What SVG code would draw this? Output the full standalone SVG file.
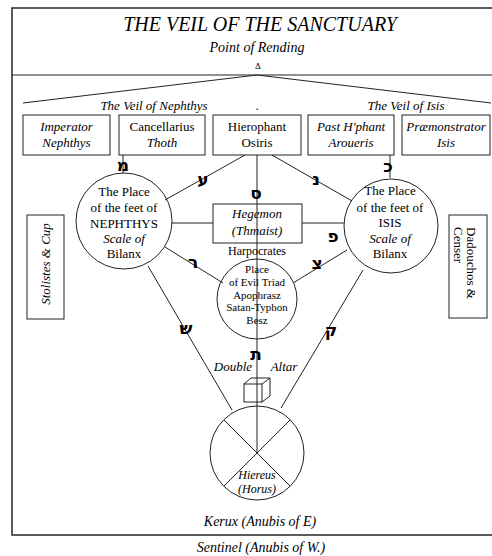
<svg xmlns="http://www.w3.org/2000/svg" width="492" height="556" viewBox="0 0 492 556">
<style>
.t{font-family:"Liberation Serif",serif;fill:#000;text-anchor:middle}
.i{font-style:italic}
.s13{font-size:13px}
.s12{font-size:12px}
.s11{font-size:11px}
.heb{font-family:"DejaVu Sans","Liberation Serif",sans-serif;font-weight:bold;font-size:17px;text-anchor:middle;fill:#000}
.box{fill:none;stroke:#222;stroke-width:1}
.ln{stroke:#222;stroke-width:1;fill:none}
</style>
<rect width="492" height="556" fill="#fff"/>
<g id="frame">
<rect x="12" y="8" width="492" height="527" fill="none" stroke="#333" stroke-width="1.6"/>
<line x1="12" y1="75" x2="504" y2="75" stroke="#222" stroke-width="1.2"/>
</g>
<g id="title">
<text class="t i" x="260" y="31" font-size="20">THE VEIL OF THE SANCTUARY</text>
<text class="t i" x="257" y="52" font-size="14">Point of  Rending</text>
<text class="t" x="258" y="69" font-size="9">Δ</text>
</g>
<g id="veil">
<polyline class="ln" points="23,103 257,75 491,103"/>
<text class="t i s13" x="154" y="110">The Veil of Nephthys</text>
<text class="t s13" x="257" y="110">.</text>
<text class="t i s13" x="406" y="110">The Veil of Isis</text>
</g>
<g id="connectors">
<line class="ln" x1="123" y1="155" x2="123" y2="173"/>
<line class="ln" x1="390" y1="155" x2="390" y2="178"/>
<line class="ln" x1="245" y1="155" x2="165" y2="200"/>
<line class="ln" x1="272" y1="155" x2="352" y2="201"/>
<line class="ln" x1="257" y1="155" x2="257" y2="453"/>
<line class="ln" x1="172" y1="223" x2="213" y2="223"/>
<line class="ln" x1="302" y1="223" x2="344" y2="223"/>
<line class="ln" x1="165" y1="247" x2="223" y2="283"/>
<line class="ln" x1="347" y1="250" x2="293" y2="283"/>
<line class="ln" x1="148" y1="266" x2="232" y2="410"/>
<line class="ln" x1="363" y1="270" x2="281" y2="408"/>
<text class="heb" x="123" y="171">מ</text>
<text class="heb" x="203" y="185">ע</text>
<text class="heb" x="256" y="199">ס</text>
<text class="heb" x="316" y="185">נ</text>
<text class="heb" x="388" y="172">כ</text>
<text class="heb" x="333" y="242">פ</text>
<text class="heb" x="193" y="268">ר</text>
<text class="heb" x="317" y="269">צ</text>
<text class="heb" x="186" y="334">ש</text>
<text class="heb" x="331" y="336">ק</text>
<text class="heb" x="256" y="360">ת</text>
</g>
<g id="imperator">
<rect class="box" x="23" y="115" width="87" height="40"/>
<text class="t i s13" x="66.5" y="131">Imperator</text>
<text class="t i s13" x="66.5" y="147">Nephthys</text>
</g>
<g id="cancellarius">
<rect class="box" x="119" y="115" width="86" height="40"/>
<text class="t s13" x="162" y="131">Cancellarius</text>
<text class="t i s13" x="162" y="147">Thoth</text>
</g>
<g id="hierophant">
<rect class="box" x="213" y="115" width="88" height="40"/>
<text class="t s13" x="257" y="131">Hierophant</text>
<text class="t s13" x="257" y="147">Osiris</text>
</g>
<g id="pasthierophant">
<rect class="box" x="308" y="115" width="86" height="40"/>
<text class="t i s13" x="351" y="131">Past H'phant</text>
<text class="t i s13" x="351" y="147">Aroueris</text>
</g>
<g id="praemonstrator">
<rect class="box" x="402" y="115" width="88" height="40"/>
<text class="t i s13" x="446" y="131">Prӕmonstrator</text>
<text class="t i s13" x="446" y="147">Isis</text>
</g>
<g id="nephthys">
<circle class="box" cx="124" cy="221" r="48"/>
<text class="t s13" x="124" y="196">The Place</text>
<text class="t s13" x="124" y="212">of the feet of</text>
<text class="t s13" x="124" y="228">NEPHTHYS</text>
<text class="t i s13" x="124" y="243">Scale of</text>
<text class="t s13" x="124" y="258">Bilanx</text>
</g>
<g id="isis">
<circle class="box" cx="391" cy="226" r="47"/>
<text class="t s13" x="390" y="195">The Place</text>
<text class="t s13" x="390" y="212">of the feet of</text>
<text class="t s13" x="390" y="227">ISIS</text>
<text class="t i s13" x="390" y="243">Scale of</text>
<text class="t s13" x="390" y="258">Bilanx</text>
</g>
<g id="hegemon">
<rect class="box" x="213" y="204" width="89" height="39"/>
<text class="t i s13" x="257" y="218">Hegemon</text>
<text class="t i s13" x="257" y="235">(Thmaist)</text>
</g>
<g id="harpocrates">
<text class="t s12" x="257" y="255">Harpocrates</text>
<circle class="box" cx="257" cy="299" r="40"/>
<text class="t s11" x="257" y="273">Place</text>
<text class="t s11" x="257" y="286">of Evil Triad</text>
<text class="t s11" x="257" y="298.5">Apophrasz</text>
<text class="t s11" x="257" y="311">Satan-Typhon</text>
<text class="t s11" x="257" y="323.5">Besz</text>
</g>
<g id="stolistes">
<rect class="box" x="27" y="215" width="37" height="104"/>
<text class="t i s13" transform="translate(50,264) rotate(-90)">Stolistes  &amp;  Cup</text>
</g>
<g id="dadouchos">
<rect class="box" x="449" y="215" width="38" height="103"/>
<text class="t s13" style="text-anchor:start" transform="translate(467,227) rotate(90)">Dadouchos &amp;<tspan x="0" dy="13">Censer</tspan></text>
</g>
<g id="altar">
<text class="t i s13" x="233" y="371">Double</text>
<text class="t i s13" x="284" y="371">Altar</text>
<rect class="box" x="244" y="384" width="18" height="18" fill="#fff"/>
<polyline class="ln" points="244,384 251,378 270,378 270,396 262,402"/>
<line class="ln" x1="262" y1="384" x2="270" y2="378"/>
</g>
<g id="hiereus">
<circle class="box" cx="257" cy="453" r="47"/>
<line class="ln" x1="224" y1="420" x2="290" y2="486"/>
<line class="ln" x1="290" y1="420" x2="224" y2="486"/>
<text class="t i s12" x="257" y="479">Hiereus</text>
<text class="t i s12" x="257" y="493">(Horus)</text>
</g>
<g id="footer">
<text class="t i" x="260" y="526" font-size="14">Kerux (Anubis of E)</text>
<text class="t i" x="261" y="552" font-size="14">Sentinel (Anubis of W.)</text>
</g>
</svg>
